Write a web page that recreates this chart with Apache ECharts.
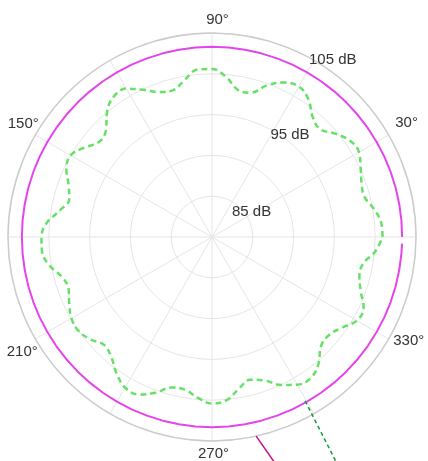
<!DOCTYPE html>
<html>
<head>
<meta charset="utf-8">
<script src="https://cdn.jsdelivr.net/npm/echarts@6/dist/echarts.min.js"></script>
<style>
html,body{margin:0;padding:0;background:#fff;}
#chart{width:428px;height:461px;}
</style>
</head>
<body>
<div id="chart"></div>
<script>
// Angles (degrees, counter-clockwise from east)
const angles = [0,5,10,15,20,25,30,35,40,45,50,55,60,65,70,75,80,85,90,95,100,105,110,115,120,125,130,135,140,145,150,155,160,165,170,175,180,185,190,195,200,205,210,215,220,225,230,235,240,245,250,255,260,265,270,275,280,285,290,295,300,305,310,315,320,325,330,335,340,345,350,355,360];
// Green dashed measured response (dB)
const greenValues = [100.9,100.8,100.1,99.3,99.5,100.1,100.8,100.6,99.7,98.7,99.2,100.6,101.3,100.9,99.8,98.3,98.3,99.7,100.6,100.6,99.5,98.6,98.9,99.9,101.0,101.0,100.0,98.4,98.1,99.1,100.0,99.7,98.7,98.1,98.9,100.3,100.9,100.9,100.2,99.0,98.7,99.3,99.9,100.0,99.5,98.7,99.2,100.4,101.3,101.3,100.3,99.1,99.0,99.8,100.4,100.1,98.9,98.1,98.7,100.0,100.9,101.1,100.3,98.9,98.7,99.4,100.5,100.5,99.4,98.7,98.8,100.1,100.9];
// Magenta reference level (dB) on its own angles (ends just short of 360)
const magentaAngles = [0,5,10,15,20,25,30,35,40,45,50,55,60,65,70,75,80,85,90,95,100,105,110,115,120,125,130,135,140,145,150,155,160,165,170,175,180,185,190,195,200,205,210,215,220,225,230,235,240,245,250,255,260,265,270,275,280,285,290,295,300,305,310,315,320,325,330,335,340,345,350,355,358];
const magentaValues = [103.3,103.3,103.3,103.3,103.3,103.3,103.3,103.3,103.3,103.3,103.3,103.3,103.3,103.3,103.3,103.3,103.3,103.3,103.3,103.3,103.3,103.3,103.3,103.3,103.3,103.3,103.3,103.3,103.3,103.3,103.3,103.3,103.3,103.3,103.3,103.3,103.3,103.3,103.3,103.3,103.3,103.3,103.3,103.3,103.3,103.3,103.3,103.3,103.3,103.3,103.3,103.3,103.3,103.3,103.3,103.3,103.3,103.3,103.3,103.3,103.3,103.3,103.3,103.3,103.3,103.3,103.3,103.3,103.3,103.3,103.3,103.3,103.3];
// Tail segments leaving the plot
const magentaTailAngles = [282.5, 289.4];
const magentaTailValues = [105.0, 115.6];
const greenTailAngles = [299.6, 298.5];
const greenTailValues = [103.1, 119.6];
// Tick labels
const angleTickLabels = [30, 90, 150, 210, 270, 330];
const radiusTickLabels = [85, 95, 105];
const radiusMin = 80, radiusMax = 105, radiusStep = 5;

function pairs(vals, angs) { return vals.map((v, i) => [v, angs[i]]); }

const font = 'Liberation Sans, Arial, sans-serif';
const R = 204;
const outerMax = radiusMin + (radiusMax - radiusMin) * 2; // same scale, twice the radius (for tails)
const chart = echarts.init(document.getElementById('chart'), null, {renderer: 'canvas'});
chart.setOption({
  animation: false,
  polar: [
    { center: [212, 237], radius: R },
    { center: [212, 237], radius: R * 2 }
  ],
  angleAxis: [{
    polarIndex: 0,
    type: 'value', min: 60, max: 420, interval: 30, startAngle: 60, clockwise: false,
    axisLine: { show: true, lineStyle: { color: '#cccccc', width: 1.5 } },
    axisTick: { show: false },
    axisLabel: {
      margin: -12, fontSize: 15, color: '#333', fontFamily: font,
      formatter: function (v) { const d = ((v % 360) + 360) % 360; return angleTickLabels.indexOf(d) >= 0 ? '{a' + d + '|' + d + '°}' : ''; },
      rich: {
        a30: { padding: [0, 0, 11, 17] },
        a90: { padding: [0, 0, 18, 11] },
        a150: { padding: [0, 7, 10, 0] },
        a210: { padding: [11, 8, 0, 0] },
        a270: { padding: [17, 0, 0, 3] },
        a330: { padding: [0, 0, 0, 15] }
      }
    },
    splitLine: { show: true, lineStyle: { color: '#e5e5e5', width: 1 } }
  }, {
    polarIndex: 1, show: false,
    type: 'value', min: 60, max: 420, interval: 30, startAngle: 60, clockwise: false
  }],
  radiusAxis: [{
    polarIndex: 0,
    type: 'value', min: radiusMin, max: radiusMax, interval: radiusStep,
    axisLine: { show: false }, axisTick: { show: false },
    axisLabel: {
      fontSize: 15, color: '#333', fontFamily: font, margin: -20,
      formatter: function (v) { return radiusTickLabels.indexOf(v) >= 0 ? '{r' + v + '|' + v + ' dB}' : ''; },
      rich: {
        r85: { width: 17.7, align: 'left', padding: [0, 0, 0, 0] },
        r95: { width: 20.1, align: 'left', padding: [0, 0, 12, 0] },
        r105: { width: 22.3, align: 'left', padding: [0, 0, 21, 0] }
      }
    },
    splitLine: { show: true, lineStyle: { color: '#e5e5e5', width: 1 } }
  }, {
    polarIndex: 1, show: false,
    type: 'value', min: radiusMin, max: outerMax
  }],
  series: [
    { type: 'line', coordinateSystem: 'polar', polarIndex: 0, data: pairs(magentaValues, magentaAngles), showSymbol: false,
      lineStyle: { color: '#e444ec', width: 2 } },
    { type: 'line', coordinateSystem: 'polar', polarIndex: 0, data: pairs(greenValues, angles), showSymbol: false, smooth: 0.4,
      lineStyle: { color: '#66e066', width: 2.5, type: [6, 4] } },
    { type: 'line', coordinateSystem: 'polar', polarIndex: 1, data: pairs(magentaTailValues, magentaTailAngles), showSymbol: false,
      lineStyle: { color: '#c0108a', width: 1.5 } },
    { type: 'line', coordinateSystem: 'polar', polarIndex: 1, data: pairs(greenTailValues, greenTailAngles), showSymbol: false,
      lineStyle: { color: '#1a9a40', width: 1.5, type: [4, 3] } }
  ]
});
</script>
</body>
</html>
